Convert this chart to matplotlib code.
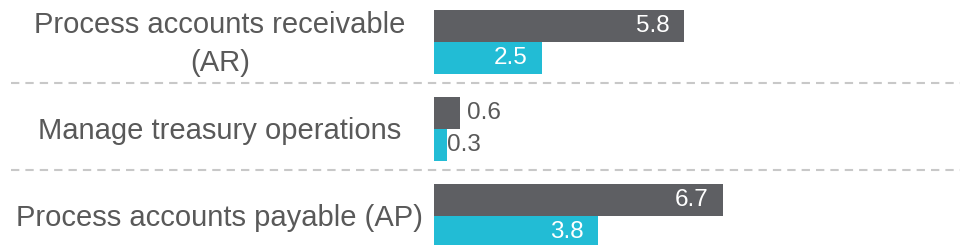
import numpy as np
import matplotlib
matplotlib.use("Agg")
import matplotlib.pyplot as plt
from matplotlib.transforms import blended_transform_factory

# Data
categories = ["Process accounts receivable\n(AR)",
              "Manage treasury operations",
              "Process accounts payable (AP)"]
series_dark = [5.8, 0.6, 6.7]
series_cyan = [2.5, 0.3, 3.8]

plt.rcParams['font.family'] = ['Liberation Sans', 'DejaVu Sans']

dark_color = '#5e5f63'
cyan_color = '#22bcd5'
text_color = '#595959'

fig = plt.figure(figsize=(9.6, 2.45), dpi=100)
ax = fig.add_axes([0, 0, 1, 1])

y = np.arange(len(categories))
h = 0.368

bars_dark = ax.barh(y - h / 2, series_dark, height=h, color=dark_color)
bars_cyan = ax.barh(y + h / 2, series_cyan, height=h, color=cyan_color)

# value labels: white inside the bar end, gray outside for small values
def label_bars(bars, values, out_offset):
    for bar, v in zip(bars, values):
        yc = bar.get_y() + bar.get_height() / 2
        if v >= 1:
            ax.annotate(f"{v:.1f}", (v, yc), xytext=(-10, 0), textcoords='offset points',
                        ha='right', va='center', color='white', fontsize=17.5)
        else:
            ax.annotate(f"{v:.1f}", (v, yc), xytext=(out_offset, 0), textcoords='offset points',
                        ha='left', va='center', color=text_color, fontsize=17.5)

label_bars(bars_dark, series_dark, 5)
label_bars(bars_cyan, series_cyan, 0.3)

# dashed separators between categories
for sep in y - 0.53:
    ax.axhline(sep, xmin=11 / 960, xmax=1, color='#c8c8c8', lw=1.5,
               linestyle=(0, (4, 2.9)), zorder=0)

# category labels centered in the left part
trans = blended_transform_factory(fig.transFigure, ax.transData)
for yi, cat in zip(y, categories):
    ax.text(0.229, yi + 0.02, cat, transform=trans, ha='center', va='center',
            multialignment='center', fontsize=21, color=text_color, linespacing=1.45)

# scale: bars start at ~434px, ~43.1px per unit; categories 87px apart
px_per_unit = 43.1
ax.set_xlim(-434 / px_per_unit, (960 - 434) / px_per_unit)
ax.set_ylim(-42 / 87 + 245 / 87, -42 / 87)
ax.axis('off')

fig.savefig('out.png', dpi=100)
